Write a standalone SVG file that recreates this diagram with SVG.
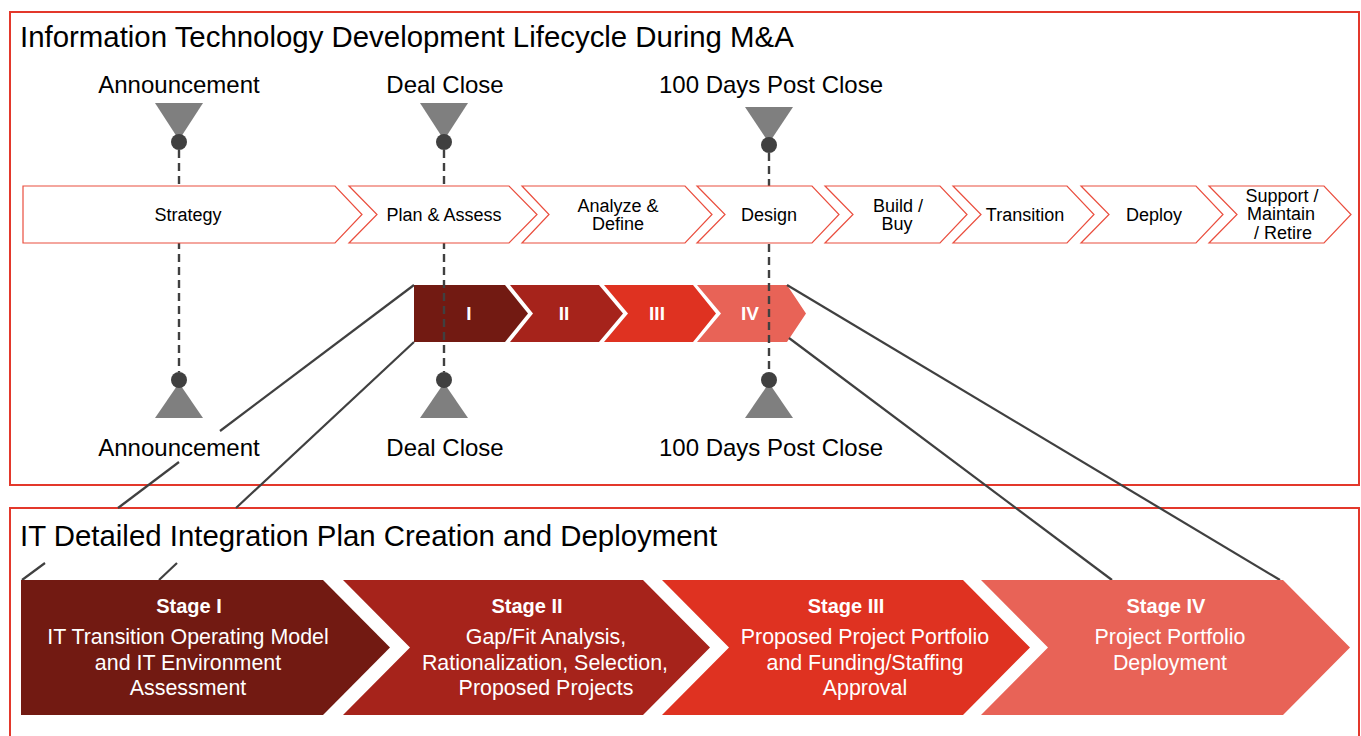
<svg xmlns="http://www.w3.org/2000/svg" width="1361" height="736" viewBox="0 0 1361 736">
<style>
text{font-family:"Liberation Sans",Arial,sans-serif;}
.title{font-size:29.4px;fill:#000;}
.ms{font-size:24px;fill:#000;text-anchor:middle;}
.chev{fill:#fff;stroke:#ea4e3e;stroke-width:1.2;}
.cl{font-size:18px;fill:#000;text-anchor:middle;}
.band{font-size:19px;font-weight:bold;fill:#fff;text-anchor:middle;}
.sh{font-size:20px;font-weight:bold;fill:#fff;text-anchor:middle;}
.sb{font-size:21.4px;fill:#fff;text-anchor:middle;}
.frame{fill:none;stroke:#e3382b;stroke-width:2;}
.tri{fill:#7f7f7f;}
.dot{fill:#404040;}
.dash{stroke:#404040;stroke-width:2.4;stroke-dasharray:8 5;fill:none;}
.conn{stroke:#404040;stroke-width:2.2;fill:none;}
.c1{fill:#721a12;}.c2{fill:#a6231b;}.c3{fill:#df3221;}.c4{fill:#e86357;}
</style>
<rect width="1361" height="736" fill="#fff"/>
<g id="frame-top">
<rect class="frame" x="10" y="12" width="1349" height="473"/>
<text class="title" x="20" y="47">Information Technology Development Lifecycle During M&amp;A</text>
</g>
<g id="frame-bottom">
<rect class="frame" x="10" y="508" width="1349" height="240"/>
<text class="title" x="20" y="546">IT Detailed Integration Plan Creation and Deployment</text>
</g>
<g id="band">
<g id="band-I"><path class="c1" d="M414,285 H505 L528,313.5 L505,342 H414 Z"/><text class="band" x="469" y="320">I</text></g>
<g id="band-II"><path class="c2" d="M510,285 H599 L623,313.5 L599,342 H510 L533,313.5 Z"/><text class="band" x="564" y="320">II</text></g>
<g id="band-III"><path class="c3" d="M604,285 H693 L716,313.5 L693,342 H604 L628,313.5 Z"/><text class="band" x="657" y="320">III</text></g>
<g id="band-IV"><path class="c4" d="M697,285 H787 L806,313.5 L787,342 H697 L721,313.5 Z"/><text class="band" x="750" y="320">IV</text></g>
</g>
<g id="milestone-lines">
<line class="dash" x1="179" y1="150" x2="179" y2="372"/>
<line class="dash" x1="444" y1="150" x2="444" y2="372"/>
<line class="dash" x1="769" y1="153" x2="769" y2="372"/>
</g>
<g id="lifecycle">
<g id="ch-strategy"><path class="chev" d="M23,186 H335 L362,214.5 L335,243 H23 Z"/><text class="cl" x="188" y="221">Strategy</text></g>
<g id="ch-plan"><path class="chev" d="M349,186 H509 L537,214.5 L509,243 H349 L377,214.5 Z"/><text class="cl" x="444" y="221">Plan &amp; Assess</text></g>
<g id="ch-analyze"><path class="chev" d="M522,186 H685 L712,214.5 L685,243 H522 L549,214.5 Z"/><text class="cl" x="618" y="212">Analyze &amp;</text><text class="cl" x="618" y="230">Define</text></g>
<g id="ch-design"><path class="chev" d="M697,186 H812 L839,214.5 L812,243 H697 L725,214.5 Z"/><text class="cl" x="769" y="221">Design</text></g>
<g id="ch-build"><path class="chev" d="M825,186 H940 L967,214.5 L940,243 H825 L853,214.5 Z"/><text class="cl" x="898" y="212">Build /</text><text class="cl" x="897" y="230">Buy</text></g>
<g id="ch-transition"><path class="chev" d="M953,186 H1067 L1094,214.5 L1067,243 H953 L981,214.5 Z"/><text class="cl" x="1025" y="221">Transition</text></g>
<g id="ch-deploy"><path class="chev" d="M1081,186 H1196 L1223,214.5 L1196,243 H1081 L1109,214.5 Z"/><text class="cl" x="1154" y="221">Deploy</text></g>
<g id="ch-support"><path class="chev" d="M1209,186 H1324 L1351,214.5 L1324,243 H1209 L1237,214.5 Z"/><text class="cl" x="1282" y="202">Support /</text><text class="cl" x="1281" y="220">Maintain</text><text class="cl" x="1283" y="239">/ Retire</text></g>
</g>
<g id="ms-announcement-top"><text class="ms" x="179" y="93">Announcement</text><polygon class="tri" points="155,103 203,103 179,140"/><circle class="dot" cx="179" cy="142" r="8"/></g>
<g id="ms-dealclose-top"><text class="ms" x="445" y="93">Deal Close</text><polygon class="tri" points="420,103 468,103 444,140"/><circle class="dot" cx="444" cy="142" r="8"/></g>
<g id="ms-100days-top"><text class="ms" x="771" y="93">100 Days Post Close</text><polygon class="tri" points="745,107 793,107 769,143"/><circle class="dot" cx="769" cy="145" r="8"/></g>
<g id="ms-announcement-bottom"><polygon class="tri" points="179,383 155,418 203,418"/><circle class="dot" cx="179" cy="380" r="8"/><text class="ms" x="179" y="456">Announcement</text></g>
<g id="ms-dealclose-bottom"><polygon class="tri" points="444,383 420,418 468,418"/><circle class="dot" cx="444" cy="380" r="8"/><text class="ms" x="445" y="456">Deal Close</text></g>
<g id="ms-100days-bottom"><polygon class="tri" points="769,383 745,418 793,418"/><circle class="dot" cx="769" cy="380" r="8"/><text class="ms" x="771" y="456">100 Days Post Close</text></g>
<g id="connectors">
<polyline class="conn" points="414,285 220,431"/>
<polyline class="conn" points="179,462 118,508"/>
<polyline class="conn" points="45,563 22,580"/>
<polyline class="conn" points="414,342 236,508"/>
<polyline class="conn" points="177,563 159,580"/>
<polyline class="conn" points="787,285 1280,580"/>
<polyline class="conn" points="789,338 1112,580"/>
</g>
<g id="stages">
<g id="stage-I"><path class="c1" d="M21,580 H323 L390,647.5 L323,715 H21 Z"/><text class="sh" x="189" y="613">Stage I</text><text class="sb" x="188" y="644">IT Transition Operating Model</text><text class="sb" x="188" y="670">and IT Environment</text><text class="sb" x="188" y="695">Assessment</text></g>
<g id="stage-II"><path class="c2" d="M343,580 H643 L710,647.5 L643,715 H343 L410,647.5 Z"/><text class="sh" x="527" y="613">Stage II</text><text class="sb" x="546" y="644">Gap/Fit Analysis,</text><text class="sb" x="545" y="670">Rationalization, Selection,</text><text class="sb" x="546" y="695">Proposed Projects</text></g>
<g id="stage-III"><path class="c3" d="M662,580 H963 L1030,647.5 L963,715 H662 L729,647.5 Z"/><text class="sh" x="846" y="613">Stage III</text><text class="sb" x="865" y="644">Proposed Project Portfolio</text><text class="sb" x="865" y="670">and Funding/Staffing</text><text class="sb" x="865" y="695">Approval</text></g>
<g id="stage-IV"><path class="c4" d="M981,580 H1283 L1350,647.5 L1283,715 H981 L1048,647.5 Z"/><text class="sh" x="1166" y="613">Stage IV</text><text class="sb" x="1170" y="644">Project Portfolio</text><text class="sb" x="1170" y="670">Deployment</text></g>
</g>
</svg>
